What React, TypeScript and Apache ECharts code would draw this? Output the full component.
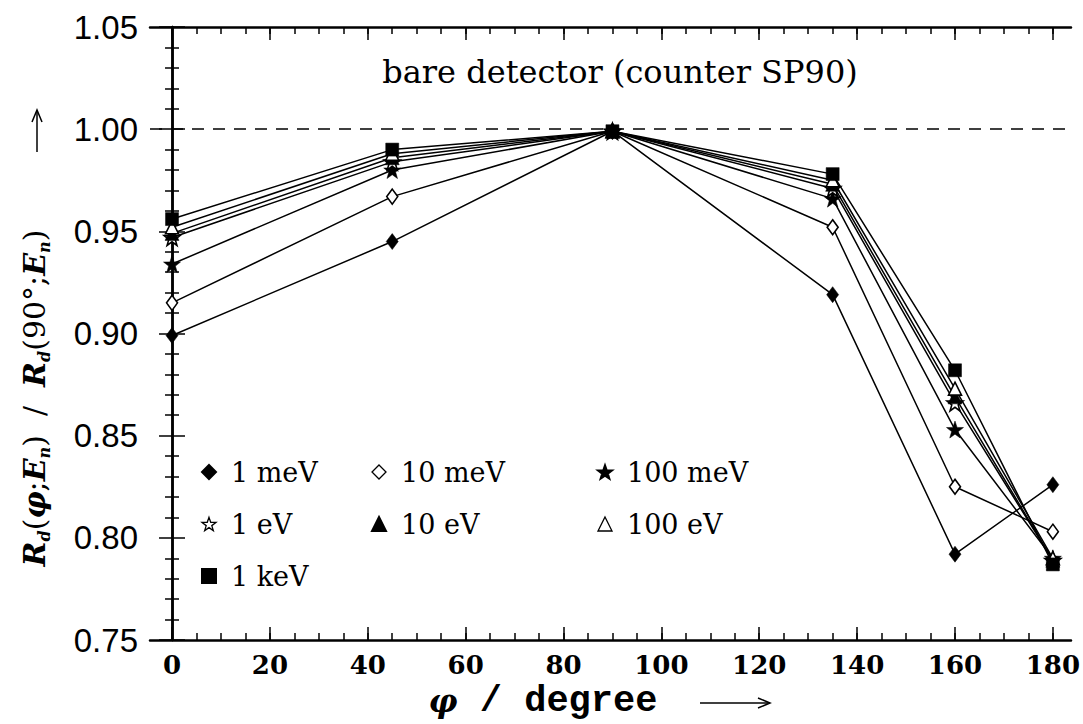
import React, { useEffect, useRef } from "react";
import * as echarts from "echarts";

// ---- data ----
const angles = [0, 45, 90, 135, 160, 180];
const r1meV = [0.899, 0.945, 0.999, 0.919, 0.792, 0.826];
const r10meV = [0.915, 0.967, 0.999, 0.952, 0.825, 0.803];
const r100meV = [0.934, 0.98, 0.999, 0.966, 0.853, 0.79];
const r1eV = [0.947, 0.984, 0.999, 0.971, 0.866, 0.789];
const r10eV = [0.949, 0.986, 0.999, 0.973, 0.869, 0.789];
const r100eV = [0.952, 0.988, 0.999, 0.975, 0.873, 0.79];
const r1keV = [0.956, 0.99, 0.999, 0.978, 0.882, 0.787];

const seriesNames = ["1 meV", "10 meV", "100 meV", "1 eV", "10 eV", "100 eV", "1 keV"];
const xMajorTicks = [0, 20, 40, 60, 80, 100, 120, 140, 160, 180];
const xMinorTicks = [0, 5, 10, 15, 20, 25, 30, 35, 40, 45, 50, 55, 60, 65, 70, 75, 80, 85, 90, 95, 100, 105, 110, 115, 120, 125, 130, 135, 140, 145, 150, 155, 160, 165, 170, 175, 180];
const referenceLevel = 1.0;
const titleText = "bare detector (counter SP90)";

const STAR = "path://M0,-10 L2.35,-3.24 L9.51,-3.09 L3.8,1.24 L5.88,8.09 L0,4 L-5.88,8.09 L-3.8,1.24 L-9.51,-3.09 L-2.35,-3.24 Z";

export default function App() {
  const ref = useRef<HTMLDivElement>(null);
  useEffect(() => {
    document.body.style.margin = "0";
    if (!ref.current) return;
    const chart = echarts.init(ref.current, null, { renderer: "svg" });

    const values = [r1meV, r10meV, r100meV, r1eV, r10eV, r100eV, r1keV];
    const symbols = ["diamond", "diamond", STAR, STAR, "triangle", "triangle", "rect"];
    const sizes: any[] = [[12, 16], [11, 15], 17, 16, 14, 13, 13];
    const filled = [true, false, true, false, true, false, true];

    const series: any[] = values.map((vals, i) => ({
      name: seriesNames[i],
      type: "line",
      xAxisIndex: 0,
      yAxisIndex: 0,
      data: angles.map((a, j) => [a, vals[j]]),
      symbol: symbols[i],
      symbolSize: sizes[i],
      showAllSymbol: true,
      color: filled[i] ? "#000" : "#fff",
      itemStyle: filled[i]
        ? { color: "#000", borderColor: "#000", borderWidth: 0.5 }
        : { color: "#fff", borderColor: "#000", borderWidth: 1.6 },
      lineStyle: { color: "#000", width: 1.5 },
      z: 2 + i,
      markLine:
        i === 0
          ? {
              silent: true,
              symbol: ["none", "none"],
              label: { show: false },
              lineStyle: { type: [12, 9], color: "#000", width: 1.5 },
              data: [{ yAxis: referenceLevel }],
            }
          : undefined,
    }));

    const legendFont = { fontFamily: "DejaVu Serif", fontSize: 27, color: "#000", lineHeight: 30, padding: [0, 0, 0, 10] };
    const mkLegend = (names: string[], left: number) => ({
      orient: "vertical",
      left,
      top: 452,
      itemGap: 22,
      itemWidth: 14,
      itemHeight: 14,
      selectedMode: false,
      textStyle: legendFont,
      data: names.map((n) => {
        const i = seriesNames.indexOf(n);
        return {
          name: n,
          icon: symbols[i],
          itemStyle: filled[i] ? { color: "#000" } : { color: "#fff", borderColor: "#000", borderWidth: 1.3 },
        };
      }),
    });

    const axisLineStyle = { show: true, lineStyle: { color: "#000", width: 2.5 } };
    const xBase = { type: "value", min: -4.5, max: 183.7, splitLine: { show: false }, gridIndex: 0 };
    const yBase = { type: "value", min: 0.75, max: 1.05, interval: 0.05, splitLine: { show: false }, gridIndex: 0 };
    const tickLine = { color: "#000", width: 1.5 };

    const option: any = {
      animation: false,
      backgroundColor: "#fff",
      grid: { left: 150, right: 8, top: 27, bottom: 84, containLabel: false },
      xAxis: [
        {
          ...xBase,
          position: "bottom",
          axisLine: axisLineStyle,
          axisTick: { show: true, inside: true, length: 13, lineStyle: tickLine, customValues: xMajorTicks },
          axisLabel: { show: true, customValues: xMajorTicks, margin: 12, fontFamily: "DejaVu Serif", fontWeight: "bold", fontSize: 26, color: "#000" },
        },
        {
          ...xBase,
          position: "bottom",
          axisLine: { show: false },
          axisTick: { show: true, inside: true, length: 7, lineStyle: tickLine, customValues: xMinorTicks },
          axisLabel: { show: false },
        },
        {
          ...xBase,
          position: "top",
          axisLine: axisLineStyle,
          axisTick: { show: true, inside: true, length: 13, lineStyle: tickLine, customValues: xMajorTicks },
          axisLabel: { show: false },
        },
        {
          ...xBase,
          position: "top",
          axisLine: { show: false },
          axisTick: { show: true, inside: true, length: 7, lineStyle: tickLine, customValues: xMinorTicks },
          axisLabel: { show: false },
        },
      ],
      yAxis: [
        {
          ...yBase,
          position: "left",
          axisLine: axisLineStyle,
          axisTick: { show: true, inside: true, length: 13, lineStyle: tickLine },
          minorTick: { show: true, splitNumber: 5, length: 7, lineStyle: tickLine },
          axisLabel: {
            show: true,
            margin: 12,
            fontFamily: "Liberation Sans",
            fontSize: 33,
            color: "#000",
            formatter: (v: number) => v.toFixed(2),
          },
        },
        {
          ...yBase,
          position: "right",
          axisLine: axisLineStyle,
          axisTick: { show: true, inside: true, length: 13, lineStyle: tickLine },
          minorTick: { show: true, splitNumber: 5, length: 7, lineStyle: tickLine },
          axisLabel: { show: false },
        },
      ],
      legend: [
        mkLegend(["1 meV", "1 eV", "1 keV"], 196),
        mkLegend(["10 meV", "10 eV"], 366),
        mkLegend(["100 meV", "100 eV"], 592),
      ],
      graphic: [
        {
          type: "text",
          x: 620,
          y: 72,
          style: { text: titleText, fontFamily: "DejaVu Serif", fontSize: 32, fill: "#000", align: "center", verticalAlign: "middle" },
        },
        {
          type: "text",
          x: 543,
          y: 701,
          style: {
            text: "{i|φ}{n| / degree}",
            align: "center",
            verticalAlign: "middle",
            fill: "#000",
            rich: {
              i: { fontFamily: "DejaVu Serif", fontStyle: "italic", fontWeight: "bold", fontSize: 32, fill: "#000" },
              n: { fontFamily: "Liberation Mono", fontWeight: "bold", fontSize: 37, fill: "#000" },
            },
          },
        },
        { type: "line", shape: { x1: 700, y1: 703, x2: 768, y2: 703 }, style: { stroke: "#000", lineWidth: 1.5 } },
        { type: "polyline", shape: { points: [[758, 698], [770, 703], [758, 708]] }, style: { stroke: "#000", lineWidth: 1.5, fill: "none" } },
        {
          type: "text",
          x: 34,
          y: 398,
          rotation: Math.PI / 2,
          style: {
            text: "{i|R}{s|d}{n|(}{i|φ}{n|;}{i|E}{s|n}{n|)  /  }{i|R}{s|d}{n|(90°;}{i|E}{s|n}{n|)}",
            align: "center",
            verticalAlign: "middle",
            fill: "#000",
            rich: {
              i: { fontFamily: "DejaVu Serif", fontStyle: "italic", fontWeight: "bold", fontSize: 30, lineHeight: 36, fill: "#000" },
              n: { fontFamily: "DejaVu Serif", fontSize: 30, lineHeight: 36, fill: "#000" },
              s: { fontFamily: "DejaVu Serif", fontStyle: "italic", fontWeight: "bold", fontSize: 16, lineHeight: 16, verticalAlign: "bottom", fill: "#000" },
            },
          },
        },
        { type: "line", shape: { x1: 37, y1: 152, x2: 37, y2: 112 }, style: { stroke: "#000", lineWidth: 1.5 } },
        { type: "polyline", shape: { points: [[32, 122], [37, 110], [42, 122]] }, style: { stroke: "#000", lineWidth: 1.5, fill: "none" } },
      ],
      series,
    };
    chart.setOption(option);
    return () => chart.dispose();
  }, []);
  return <div ref={ref} style={{ width: "100vw", height: "100vh" }} />;
}
